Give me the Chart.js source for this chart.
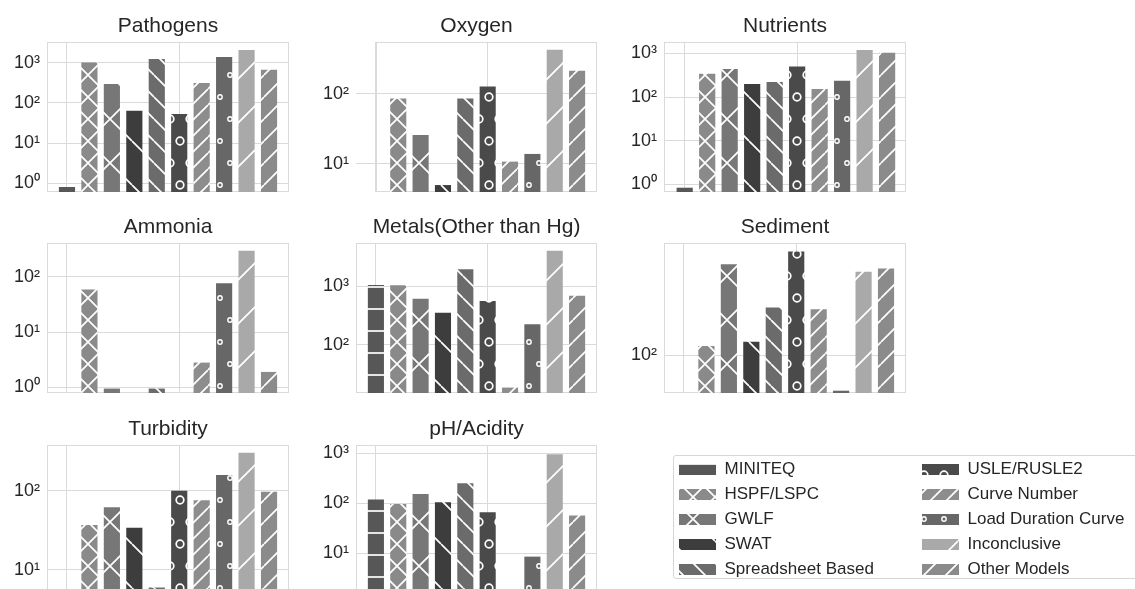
<!DOCTYPE html>
<html>
<head>
<meta charset="utf-8">
<title>Models used per pollutant</title>
<script src="https://cdn.jsdelivr.net/npm/chart.js"></script>
<style>
    html, body { margin: 0; padding: 0; background: #fff; }
    #page { position: relative; width: 1135px; height: 589px; overflow: hidden; background: #fff; }
    #page canvas { position: absolute; }
    #legendFrame { position: absolute; left: 673px; top: 455px; width: 480px; height: 122px;
                   border: 1px solid #d6d6d6; border-radius: 3px; }
</style>
</head>
<body>
<div id="page"><div id="legendFrame"></div></div>
<script>
// Models (one bar each, same order in every panel)
const models = ['MINITEQ', 'HSPF/LSPC', 'GWLF', 'SWAT', 'Spreadsheet Based',
    'USLE/RUSLE2', 'Curve Number', 'Load Duration Curve', 'Inconclusive', 'Other Models'];

// Bar heights (null = no bar)
const pathogens = [0.8, 1020, 295, 64, 1240, 53, 313, 1390, 2100, 670];
const oxygen = [null, 86, 26, 5.0, 86, 127, 10.8, 13.9, 425, 213];
const nutrients = [0.84, 340, 437, 200, 220, 500, 152, 236, 1190, 1030];
const ammonia = [null, 59, 0.95, null, 0.95, null, 2.8, 76, 295, 1.9];
const metals = [1040, 1030, 610, 353, 1920, 557, 18.9, 224, 3960, 685];
const sediment = [null, 115, 403, 123, 208, 489, 202, 58, 359, 378];
const turbidity = [null, 37, 62, 34, 6.0, 100, 76, 158, 301, 97];
const phAcidity = [119, 97, 154, 105, 251, 66, 1.8, 8.6, 955, 57];

// y tick labels (powers of ten)
const tickExponents = [0, 1, 2, 3];
const tickLabels = ['10⁰', '10¹', '10²', '10³'];

const FONT = '"Liberation Sans", Arial, Helvetica, sans-serif';
const GRID = '#dadada';
Chart.defaults.font.family = FONT;
Chart.defaults.color = '#262626';

// panel layout: plot box [left, top, right, bottom] in page pixels, y limits
const panels = [
    { title: 'Pathogens', values: pathogens, box: [47, 42, 289, 192], yRange: [0.63, 3310] },
    { title: 'Oxygen', values: oxygen, box: [356, 42, 597, 192], yRange: [3.98, 550], trimFrame: true },
    { title: 'Nutrients', values: nutrients, box: [664, 42, 906, 192], yRange: [0.67, 1820], xRange: [-0.92, 9.84] },
    { title: 'Ammonia', values: ammonia, box: [47, 243, 289, 393], yRange: [0.79, 407] },
    { title: 'Metals(Other than Hg)', values: metals, box: [356, 243, 597, 393], yRange: [15.3, 5370] },
    { title: 'Sediment', values: sediment, box: [664, 243, 906, 393], yRange: [56, 558] },
    { title: 'Turbidity', values: turbidity, box: [47, 445, 289, 595], yRange: [4.83, 377] },
    { title: 'pH/Acidity', values: phAcidity, box: [356, 445, 597, 595], yRange: [1.47, 1466] }
];

// --- hatch patterns (white lines / rings on grey, like matplotlib hatches) ---
function hatch(color, kind, size) {
    const c = document.createElement('canvas');
    c.width = size; c.height = size;
    const g = c.getContext('2d');
    g.fillStyle = color;
    g.fillRect(0, 0, size, size);
    g.strokeStyle = '#ffffff';
    g.lineWidth = 1.7;
    g.beginPath();
    if (kind === '-') {
        g.moveTo(0, size / 2); g.lineTo(size, size / 2);
    }
    if (kind === '/' || kind === 'x') {
        for (const k of [-1, 0, 1]) { g.moveTo(k * size, size); g.lineTo(k * size + size, 0); }
    }
    if (kind === '\\' || kind === 'x') {
        for (const k of [-1, 0, 1]) { g.moveTo(k * size, 0); g.lineTo(k * size + size, size); }
    }
    g.stroke();
    return g.createPattern(c, 'repeat');
}

function rings(color, r, lw, w, h) {
    const c = document.createElement('canvas');
    c.width = w; c.height = h;
    const g = c.getContext('2d');
    g.fillStyle = color;
    g.fillRect(0, 0, w, h);
    g.strokeStyle = '#ffffff';
    g.lineWidth = lw;
    for (const [cx, cy] of [[0, 0], [w, 0], [0, h], [w, h], [w / 2, h / 2]]) {
        g.beginPath();
        g.arc(cx, cy, r, 0, Math.PI * 2);
        g.stroke();
    }
    return g.createPattern(c, 'repeat');
}

const fills = [
    hatch('#575757', '-', 22),
    hatch('#8a8a8a', 'x', 22),
    hatch('#777777', 'x', 44),
    hatch('#3d3d3d', '\\', 44),
    hatch('#6b6b6b', '\\', 22),
    rings('#4a4a4a', 3.8, 1.7, 20, 44),
    hatch('#8d8d8d', '/', 16),
    rings('#676767', 2.2, 1.4, 20, 44),
    hatch('#a9a9a9', '/', 44),
    hatch('#8b8b8b', '/', 22)
];

// light grey box around each plot area
const boxFrame = {
    id: 'boxFrame',
    beforeDatasetsDraw(chart, args, opts) {
        const a = chart.chartArea;
        const ctx = chart.ctx;
        const left = opts.trim ? chart.scales.x.getPixelForValue(0) : a.left;
        ctx.save();
        ctx.strokeStyle = GRID;
        ctx.lineWidth = 1;
        ctx.strokeRect(Math.round(left) + 0.5, Math.round(a.top) + 0.5,
            Math.round(a.right - left) - 1, Math.round(a.bottom - a.top) - 1);
        ctx.restore();
    }
};

function addCanvas(left, top, width, height) {
    const c = document.createElement('canvas');
    c.width = width; c.height = height;
    c.style.left = left + 'px';
    c.style.top = top + 'px';
    c.style.width = width + 'px';
    c.style.height = height + 'px';
    document.getElementById('page').appendChild(c);
    return c;
}

const AXIS_W = 47;
const TITLE_H = 33; // 21px * 1.2 + padding 5 + 2.8

function drawPanel(p) {
    const [l, t, r, b] = p.box;
    const canvas = addCanvas(l - AXIS_W, t - TITLE_H, (r - l) + 2 * AXIS_W, TITLE_H + (b - t));
    const xRange = p.xRange || [-0.89, 9.89];

    new Chart(canvas, {
        type: 'bar',
        data: {
            datasets: [{
                data: p.values.map((v, i) => ({ x: i, y: v })),
                backgroundColor: fills,
                borderWidth: 0,
                barPercentage: 0.72,
                categoryPercentage: 1
            }]
        },
        options: {
            responsive: false,
            animation: false,
            devicePixelRatio: 1,
            layout: { padding: 0 },
            plugins: {
                legend: { display: false },
                tooltip: { enabled: false },
                title: {
                    display: true,
                    text: p.title,
                    font: { size: 21, weight: 'normal', lineHeight: 1.2 },
                    color: '#262626',
                    padding: { top: 5, bottom: 2.8 }
                },
                boxFrame: { trim: !!p.trimFrame }
            },
            scales: {
                x: {
                    type: 'linear',
                    min: xRange[0],
                    max: xRange[1],
                    offset: false,
                    grid: { color: GRID, offset: false, drawTicks: false },
                    border: { display: false },
                    ticks: { display: false },
                    afterBuildTicks: s => { s.ticks = [{ value: 0 }, { value: 5 }]; }
                },
                y: {
                    type: 'logarithmic',
                    min: p.yRange[0],
                    max: p.yRange[1],
                    beginAtZero: false,
                    grid: { color: GRID, drawTicks: false },
                    border: { display: false },
                    ticks: {
                        padding: 7,
                        font: { size: 18 },
                        color: '#262626',
                        callback: v => tickLabels[tickExponents.indexOf(Math.round(Math.log10(v)))]
                    },
                    afterBuildTicks: s => {
                        s.ticks = tickExponents.map(e => ({ value: Math.pow(10, e) }))
                            .filter(tk => tk.value >= s.min && tk.value <= s.max);
                    },
                    afterFit: s => {
                        s.width = AXIS_W;
                        // labels may overhang the box; do not shrink the plot for them
                        s.paddingTop = 0;
                        s.paddingBottom = 0;
                    }
                },
                // empty axis on the right so the title centres over the plot box
                yr: {
                    position: 'right',
                    grid: { display: false },
                    border: { display: false },
                    ticks: { display: false },
                    afterFit: s => { s.width = AXIS_W; s.paddingTop = 0; s.paddingBottom = 0; }
                }
            }
        },
        plugins: [boxFrame]
    });
}

panels.forEach(drawPanel);

// legend: two columns of five, drawn by Chart.js' own legend
function drawLegend(left, names, patterns) {
    const canvas = addCanvas(left, 453, 470, 140);
    new Chart(canvas, {
        type: 'bar',
        data: {
            labels: [],
            datasets: names.map((name, i) => ({
                label: name, data: [], backgroundColor: patterns[i], borderWidth: 0
            }))
        },
        options: {
            responsive: false,
            animation: false,
            devicePixelRatio: 1,
            scales: { x: { display: false }, y: { display: false } },
            plugins: {
                tooltip: { enabled: false },
                legend: {
                    position: 'left',
                    align: 'start',
                    maxWidth: 460,
                    labels: {
                        boxWidth: 37,
                        boxHeight: 11,
                        padding: 8,
                        color: '#262626',
                        font: { size: 17 }
                    }
                }
            }
        }
    });
}

drawLegend(671, models.slice(0, 5), fills.slice(0, 5));
drawLegend(914, models.slice(5), fills.slice(5));
</script>
</body>
</html>
